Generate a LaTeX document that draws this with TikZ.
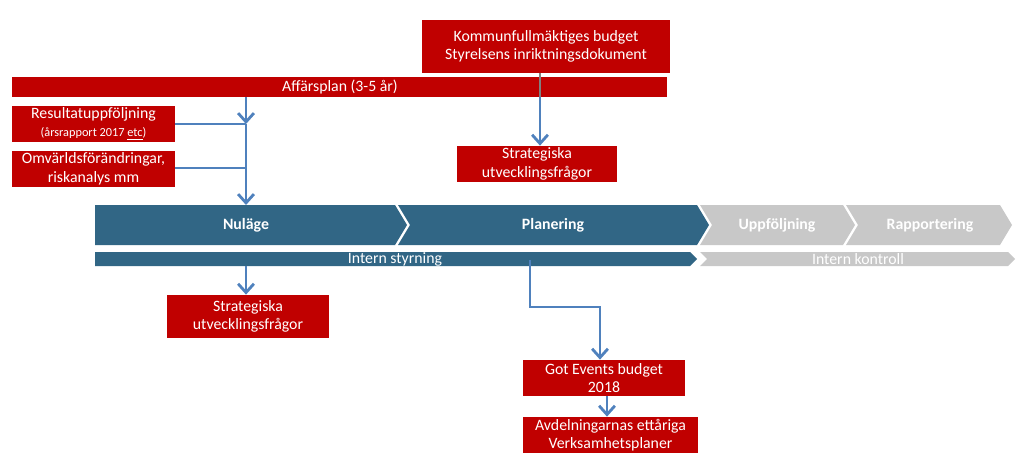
\documentclass[tikz,border=0pt]{standalone}
\usepackage{fontspec}
\setmainfont{Carlito}
\usetikzlibrary{positioning,arrows.meta}
\definecolor{boxred}{RGB}{192,0,0}
\definecolor{stepblue}{RGB}{49,102,133}
\definecolor{stepgray}{RGB}{200,200,200}
\definecolor{linkblue}{RGB}{79,129,189}
\tikzset{
  redbox/.style={fill=boxred, text=white, inner sep=0pt, align=center, font=\fontsize{9}{10.5}\selectfont},
  link/.style={draw=linkblue, line width=1.6pt, -{Straight Barb[length=5pt,width=9pt]}},
  plain/.style={draw=linkblue, line width=1.6pt},
}
\begin{document}
\begin{tikzpicture}[x=0.02cm,y=-0.02cm]
\useasboundingbox (0,0) rectangle (1024,466);
\def\tip{12}
% chevrons
\fill[stepblue] (95,205) -- (395,205) -- (395+\tip,225) -- (395,245) -- (95,245) -- cycle;
\fill[stepblue] (398,205) -- (697,205) -- (697+\tip,225) -- (697,245) -- (398,245) -- (398+\tip,225) -- cycle;
\fill[stepgray] (700,205) -- (843,205) -- (843+\tip,225) -- (843,245) -- (700,245) -- (700+\tip,225) -- cycle;
\fill[stepgray] (846,205) -- (1000,205) -- (1000+\tip,225) -- (1000,245) -- (846,245) -- (846+\tip,225) -- cycle;
\node[text=white, font=\fontsize{9}{10.5}\selectfont\bfseries] (nu) at (246,225) {Nuläge};
\node[text=white, font=\fontsize{9}{10.5}\selectfont\bfseries] (pl) at (553,225) {Planering};
\node[text=white, font=\fontsize{9}{10.5}\selectfont\bfseries] (up) at (777,225) {Uppföljning};
\node[text=white, font=\fontsize{9}{10.5}\selectfont\bfseries] (ra) at (930,225) {Rapportering};
% intern bars
\fill[stepblue] (95,252) -- (690,252) -- (697,259) -- (690,266) -- (95,266) -- cycle;
\fill[stepgray] (700,252) -- (1008,252) -- (1015,259) -- (1008,266) -- (700,266) -- (707,259) -- cycle;
\node[text=white, font=\fontsize{9}{10.5}\selectfont] (is) at (395,259) {Intern styrning};
\node[text=white, font=\fontsize{9}{10.5}\selectfont] (ik) at (858,259) {Intern kontroll};
% red boxes
\node[redbox, minimum width=248*0.02cm, minimum height=53*0.02cm] (kf) at (546,46.5) {Kommunfullmäktiges budget\\Styrelsens inriktningsdokument};
\fill[boxred] (12,77) rectangle (667,97);
\node[text=white, font=\fontsize{9}{10.5}\selectfont] (af) at (340,87) {Affärsplan (3-5 år)};
\node[redbox, minimum width=163*0.02cm, minimum height=36*0.02cm] (re) at (93.5,124) {Resultatuppföljning\\{\fontsize{7}{8.5}\selectfont(årsrapport 2017 \underline{etc})}};
\node[redbox, minimum width=163*0.02cm, minimum height=36*0.02cm] (om) at (93.5,169) {Omvärldsförändringar,\\riskanalys mm};
\node[redbox, minimum width=160*0.02cm, minimum height=36*0.02cm] (s1) at (537,164) {Strategiska\\utvecklingsfrågor};
\node[redbox, minimum width=162*0.02cm, minimum height=43*0.02cm] (s2) at (248,316.5) {Strategiska\\utvecklingsfrågor};
\node[redbox, minimum width=162*0.02cm, minimum height=36*0.02cm] (ge) at (604,378) {Got Events budget\\2018};
\node[redbox, minimum width=175*0.02cm, minimum height=36*0.02cm] (av) at (610.5,435) {Avdelningarnas ettåriga\\Verksamhetsplaner};
% connectors
\coordinate (j1) at (246,124);
\coordinate (j2) at (246,168);
\coordinate (a1) at (246,97);
\coordinate (n1) at (246,205);
\coordinate (n2) at (246,266);
\coordinate (p0) at (540,97);
\coordinate (p1) at (530,260);
\coordinate (p2) at (530,307);
\coordinate (p3) at (600,307);
\draw[plain, line width=0.6pt, draw=gray] (kf.south -| p0) -- (p0);
\draw[link] (a1) -- (j1);
\draw[plain] (re.east |- j1) -- (j1);
\draw[plain] (om.east |- j2) -- (j2);
\draw[link] (j1) -- (n1);
\draw[link] (p0) -- (p0 |- s1.north);
\draw[link] (n2) -- (n2 |- s2.north);
\draw[link] (p1) -- (p2) -- (p3) -- (p3 |- ge.north);
\draw[link] (ge.south -| 607,0) -- (607,0 |- av.north);
\end{tikzpicture}
\end{document}
